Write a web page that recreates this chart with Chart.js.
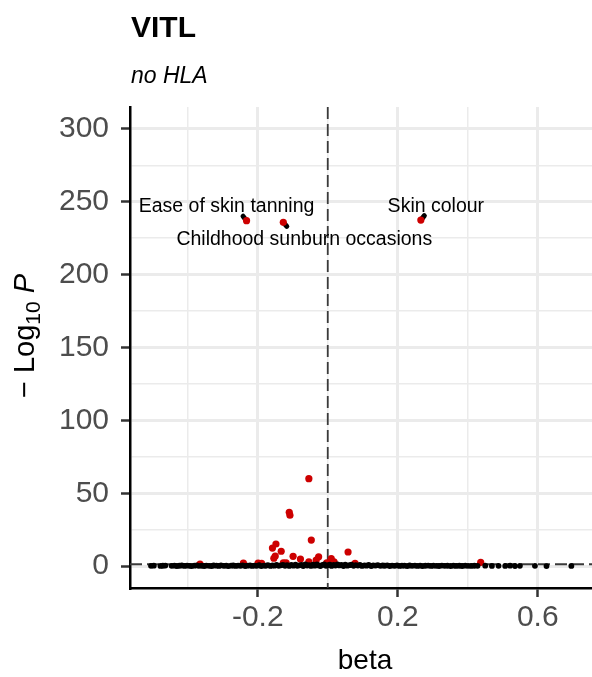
<!DOCTYPE html>
<html>
<head>
<meta charset="utf-8">
<script src="https://cdn.jsdelivr.net/npm/chart.js@4"></script>
<style>
  html, body { margin: 0; padding: 0; background: #fff; }
  #wrap { width: 592px; height: 677px; position: relative; }
</style>
</head>
<body>
<div id="wrap"><canvas id="volcano"></canvas></div>
<script>
// 비유의 결과 (beta, -log10 P)
const nullBeta = [
  -0.505, -0.497, -0.478, -0.471, -0.464, -0.446, -0.438, -0.431, -0.424, -0.417,
  -0.409, -0.402, -0.395, -0.389, -0.381, -0.374, -0.368, -0.360, -0.353, -0.347,
  -0.339, -0.332, -0.326, -0.318, -0.311, -0.305, -0.297, -0.290, -0.284, -0.276,
  -0.270, -0.263, -0.256, -0.249, -0.243, -0.236, -0.229, -0.222, -0.216, -0.209,
  -0.203, -0.196, -0.190, -0.183, -0.177, -0.171, -0.164, -0.158, -0.152, -0.146,
  -0.140, -0.134, -0.128, -0.122, -0.116, -0.110, -0.104, -0.098, -0.092, -0.087,
  -0.081, -0.075, -0.070, -0.064, -0.059, -0.053, -0.048, -0.042, -0.037, -0.031,
  -0.026, -0.021, -0.015, -0.010, -0.005, 0.001, 0.006, 0.011, 0.017, 0.022,
  0.028, 0.033, 0.039, 0.045, 0.050, 0.056, 0.062, 0.068, 0.074, 0.080,
  0.086, 0.092, 0.098, 0.105, 0.111, 0.117, 0.124, 0.130, 0.137, 0.143,
  0.150, 0.157, 0.163, 0.170, 0.177, 0.184, 0.191, 0.198, 0.205, 0.212,
  0.219, 0.227, 0.234, 0.241, 0.249, 0.256, 0.264, 0.271, 0.279, 0.287,
  0.295, 0.302, 0.310, 0.318, 0.326, 0.334, 0.342, 0.351, 0.359, 0.367,
  0.376, 0.384, 0.393, 0.401, 0.410, 0.419, 0.428, 0.450, 0.469, 0.488,
  0.507, 0.521, 0.535, 0.549, 0.592, 0.625, 0.696
];
const nullLogP = [
  0.21, 0.35, 0.12, 0.28, 0.40, 0.18, 0.33, 0.09, 0.26, 0.44,
  0.15, 0.38, 0.22, 0.05, 0.31, 0.47, 0.19, 0.27, 0.11, 0.36,
  0.24, 0.08, 0.42, 0.30, 0.16, 0.52, 0.20, 0.34, 0.06, 0.29,
  0.45, 0.13, 0.37, 0.25, 0.58, 0.10, 0.32, 0.49, 0.17, 0.41,
  0.23, 0.62, 0.07, 0.39, 0.28, 0.71, 0.14, 0.46, 0.33, 0.85,
  0.19, 0.54, 0.92, 0.27, 0.66, 0.12, 0.78, 0.35, 1.02, 0.21,
  0.59, 0.88, 0.09, 1.12, 0.43, 0.74, 0.16, 0.97, 0.31, 1.18,
  0.52, 0.06, 0.83, 1.21, 0.26, 0.69, 1.07, 0.14, 0.91, 0.38,
  1.15, 0.47, 0.79, 0.11, 0.95, 0.34, 0.63, 1.04, 0.22, 0.72,
  0.41, 0.86, 0.15, 0.58, 0.29, 0.77, 0.08, 0.51, 0.36, 0.64,
  0.18, 0.45, 0.27, 0.53, 0.10, 0.39, 0.24, 0.48, 0.13, 0.35,
  0.29, 0.07, 0.42, 0.20, 0.37, 0.15, 0.31, 0.05, 0.26, 0.40,
  0.12, 0.33, 0.22, 0.09, 0.36, 0.18, 0.28, 0.11, 0.30, 0.16,
  0.25, 0.08, 0.34, 0.19, 0.14, 0.27, 0.21, 0.32, 0.17, 0.24,
  0.13, 0.29, 0.10, 0.22, 0.18, 0.07, 0.15
];

// P < 0.05 결과
const sigBeta = [
  -0.054, -0.110, -0.108, -0.047, -0.148, -0.158, -0.133, -0.150, -0.154, -0.099,
  -0.078, -0.026, -0.033, -0.054, 0.010, 0.018, 0.058, 0.078, -0.127, -0.119,
  -0.365, -0.241, -0.199, -0.189, -0.003, 0.437
];
const sigLogP = [
  60.0, 36.9, 34.9, 17.9, 15.2, 12.4, 10.2, 6.9, 5.4, 6.7,
  4.9, 6.4, 4.2, 3.0, 5.1, 3.0, 9.7, 1.9, 2.3, 2.3,
  1.4, 2.1, 2.1, 1.9, 2.3, 2.6
];

// 이름 붙은 상위 결과
const hitNames = ["Ease of skin tanning", "Childhood sunburn occasions", "Skin colour"];
const hitBeta = [-0.232, -0.127, 0.266];
const hitLogP = [237.0, 235.9, 237.4];
// 라벨 위치 (점 기준 px 오프셋) 과 연결선 방향
const hitLabelDx = [-20, 21, 15];
const hitLabelDy = [-9, 23, -8];
const hitSegDx = [-3.5, 3.5, 3.5];
const hitSegDy = [-4.5, 4, -4.5];

// 축 눈금
const xTicks = [-0.4, -0.2, 0, 0.2, 0.4, 0.6];
const xMajor = [-0.2, 0.2, 0.6];
const yTicks = [0, 25, 50, 75, 100, 125, 150, 175, 200, 225, 250, 275, 300];
const pCutoffLog = 1.3;

const FONT = '"Liberation Sans", Arial, Helvetica, sans-serif';
Chart.defaults.font.family = FONT;

const isMajorX = (v) => xMajor.some((m) => Math.abs(m - v) < 1e-9);
const isMajorY = (v) => v % 50 === 0;

// 기준선, 라벨, 제목 그리기
const volcanoDecor = {
  id: "volcanoDecor",
  beforeDatasetsDraw(chart) {
    const { ctx, chartArea, scales } = chart;
    const x = scales.x, y = scales.y;
    ctx.save();
    ctx.beginPath();
    ctx.rect(chartArea.left, chartArea.top, chartArea.right - chartArea.left, chartArea.bottom - chartArea.top);
    ctx.clip();
    ctx.strokeStyle = "#3a3a3a";
    ctx.lineWidth = 1.8;
    ctx.setLineDash([12, 5]);
    const x0 = x.getPixelForValue(0);
    ctx.beginPath();
    ctx.moveTo(x0, chartArea.top);
    ctx.lineTo(x0, chartArea.bottom);
    ctx.stroke();
    const yc = y.getPixelForValue(pCutoffLog);
    ctx.beginPath();
    ctx.moveTo(chartArea.left, yc);
    ctx.lineTo(chartArea.right, yc);
    ctx.stroke();
    ctx.setLineDash([]);

    // 라벨 연결선
    ctx.strokeStyle = "#000";
    ctx.lineWidth = 5;
    ctx.lineCap = "round";
    hitBeta.forEach((b, i) => {
      const px = x.getPixelForValue(b);
      const py = y.getPixelForValue(hitLogP[i]);
      ctx.beginPath();
      ctx.moveTo(px, py);
      ctx.lineTo(px + hitSegDx[i], py + hitSegDy[i]);
      ctx.stroke();
    });
    ctx.restore();
  },
  afterDatasetsDraw(chart) {
    const { ctx, scales } = chart;
    ctx.save();
    ctx.fillStyle = "#000";
    ctx.font = "19.5px " + FONT;
    ctx.textAlign = "center";
    ctx.textBaseline = "alphabetic";
    hitNames.forEach((name, i) => {
      const px = scales.x.getPixelForValue(hitBeta[i]);
      const py = scales.y.getPixelForValue(hitLogP[i]);
      ctx.fillText(name, px + hitLabelDx[i], py + hitLabelDy[i]);
    });
    ctx.restore();
  },
  afterDraw(chart) {
    const { ctx } = chart;
    ctx.save();
    ctx.fillStyle = "#000";
    ctx.textBaseline = "alphabetic";
    ctx.textAlign = "left";
    ctx.font = "bold 30px " + FONT;
    ctx.fillText("VITL", 131, 37);
    ctx.font = "italic 23px " + FONT;
    ctx.fillText("no HLA", 131, 83);

    // x축 제목
    ctx.textAlign = "center";
    ctx.font = "28px " + FONT;
    ctx.fillText("beta", 365, 669);

    // y축 제목: −Log10 P
    const parts = [
      { t: "\u2212 Log", f: "29px " + FONT, dy: 0 },
      { t: "10", f: "21px " + FONT, dy: 6 },
      { t: " ", f: "29px " + FONT, dy: 0 },
      { t: "P", f: "italic 29px " + FONT, dy: 0 },
    ];
    let total = 0;
    parts.forEach((p) => {
      ctx.font = p.f;
      p.w = ctx.measureText(p.t).width;
      total += p.w;
    });
    ctx.translate(23, 336);
    ctx.rotate(-Math.PI / 2);
    ctx.textAlign = "left";
    let cx = -total / 2;
    parts.forEach((p) => {
      ctx.font = p.f;
      ctx.fillText(p.t, cx, 10.5 + p.dy);
      cx += p.w;
    });
    ctx.restore();
  },
};

const ctx = document.getElementById("volcano");
new Chart(ctx, {
  type: "scatter",
  data: {
    datasets: [
      {
        label: "NS",
        data: nullBeta.map((b, i) => ({ x: b, y: nullLogP[i] })),
        pointBackgroundColor: "#000",
        pointBorderWidth: 0,
        pointRadius: 2.9,
      },
      {
        label: "P",
        data: sigBeta
          .map((b, i) => ({ x: b, y: sigLogP[i] }))
          .concat(hitBeta.map((b, i) => ({ x: b, y: hitLogP[i] }))),
        pointBackgroundColor: "#cd0000",
        pointBorderWidth: 0,
        pointRadius: 3.6,
      },
    ],
  },
  options: {
    responsive: true,
    maintainAspectRatio: false,
    animation: false,
    devicePixelRatio: 1,
    layout: { autoPadding: false, padding: { top: 107, right: 0, left: 0, bottom: 0 } },
    plugins: {
      legend: { display: false },
      tooltip: { enabled: false },
    },
    scales: {
      x: {
        type: "linear",
        min: -0.565,
        max: 0.755,
        afterBuildTicks: (scale) => {
          scale.ticks = xTicks.map((v) => ({ value: v }));
        },
        afterFit: (scale) => {
          scale.height = 89;
        },
        ticks: {
          autoSkip: false,
          maxRotation: 0,
          padding: 3,
          color: "#4d4d4d",
          font: { size: 30 },
          callback: (v) => (isMajorX(v) ? v.toFixed(1) : ""),
        },
        grid: {
          color: "#ebebeb",
          lineWidth: (c) => (c.tick && isMajorX(c.tick.value) ? 3 : 1.5),
          tickColor: (c) => (c.tick && isMajorX(c.tick.value) ? "#333" : "rgba(0,0,0,0)"),
          tickWidth: 2.5,
          tickLength: 9,
        },
        border: { display: true, color: "#000", width: 2.5 },
      },
      y: {
        type: "linear",
        min: -15,
        max: 315,
        afterBuildTicks: (scale) => {
          scale.ticks = yTicks.map((v) => ({ value: v }));
        },
        afterFit: (scale) => {
          scale.width = 130;
        },
        ticks: {
          autoSkip: false,
          padding: 12,
          color: "#4d4d4d",
          font: { size: 30 },
          callback: (v) => (isMajorY(v) ? String(v) : ""),
        },
        grid: {
          color: "#ebebeb",
          lineWidth: (c) => (c.tick && isMajorY(c.tick.value) ? 3 : 1.5),
          tickColor: (c) => (c.tick && isMajorY(c.tick.value) ? "#333" : "rgba(0,0,0,0)"),
          tickWidth: 2.5,
          tickLength: 9,
        },
        border: { display: true, color: "#000", width: 2.5 },
      },
    },
  },
  plugins: [volcanoDecor],
});
</script>
</body>
</html>
